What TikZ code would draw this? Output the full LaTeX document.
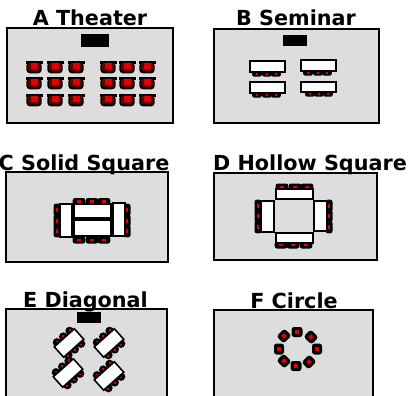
\documentclass[tikz,border=0pt]{standalone}
\usepackage{fontspec}
\setmainfont{DejaVu Sans}
\usepackage{xcolor}
\definecolor{roomgray}{RGB}{221,221,221}
\definecolor{seatred}{RGB}{225,0,0}
\definecolor{seatdark}{RGB}{90,0,0}
\tikzset{
  room/.style={draw=black,line width=1.15pt,fill=roomgray},
  screen/.style={fill=black},
  tablebox/.style={draw=black,line width=0.9pt,fill=white},
  roomtitle/.style={font=\fontsize{11.8}{14}\selectfont\bfseries,anchor=base,inner sep=0pt},
  chair/.pic={
    \fill[black] (-8.5,-6) rectangle (8.5,-3.5);
    \fill[black,rounded corners=2pt] (-7.7,-5) -- (7.7,-5) -- (7.7,6.3) -- (-7.7,6.3) -- cycle;
    \fill[seatdark,rounded corners=1pt] (-6,-4.5) -- (6,-4.5) -- (6,4.3) -- (-6,4.3) -- cycle;
    \fill[seatred] (-3.5,-4) rectangle (3.5,2);
  },
  seat/.pic={
    \fill[black,rounded corners=1.3pt] (-6.3,3.5) -- (-6.3,-3.5) -- (6.3,-3.5) -- (6.3,3.5) -- cycle;
    \fill[seatred] (-1.7,-1.2) rectangle (1.7,1);
  },
  blobseat/.pic={
    \fill[black] (0,0) circle (4.3);
    \fill[seatred] (-0.9,-1.6) rectangle (0.9,0);
  },
  roundseat/.pic={
    \fill[black,rounded corners=1.5pt] (-5.5,5) -- (-5.5,-5) -- (5.5,-5) -- (5.5,5) -- cycle;
    \fill[seatred] (-2,-2) rectangle (2,2);
  }
}
\begin{document}
\begin{tikzpicture}[x=0.02cm,y=-0.02cm]
\useasboundingbox (0,0) rectangle (411,395);
\clip (0,0) rectangle (411,395);

% Rooms
\foreach \xa/\ya/\xb/\yb in {7/28/173/123,214/29/379/123,6/172/168/262,214/173/377/260,6/309/167/410,214/310/373/410} {
  \draw[room] (\xa,\ya) rectangle (\xb,\yb);
}

% Screens
\foreach \xa/\ya/\xb/\yb in {81/34/109/47,283/35/307/46,77/312/101/323} {
  \fill[screen] (\xa,\ya) rectangle (\xb,\yb);
}

% A Theater
\foreach \px in {34,55,76,108,127,147} {
  \foreach \py in {67,83,100} {
    \pic at (\px,\py) {chair};
  }
}

% B Seminar
\foreach \px/\py in {257/74,267/74,276/74,308/73,318/73,327/73,257/95,267/95,276/95,310/94,319/94,328/94} {
  \pic[rotate=180,scale=0.78] at (\px,\py) {seat};
}
\foreach \xa/\ya/\xb/\yb in {250/61/285/72,301/60/336/71,250/82/285/93,301/82/336/92} {
  \draw[tablebox] (\xa,\ya) rectangle (\xb,\yb);
}

% C Solid Square
\foreach \px in {79,92,104} {
  \pic at (\px,201.5) {seat};
  \pic[rotate=180] at (\px,240) {seat};
}
\foreach \py in {210,221,231} {
  \pic[rotate=90] at (57,\py) {seat};
  \pic[rotate=-90] at (127,\py) {seat};
}
\foreach \xa/\ya/\xb/\yb in {60/204/72/237,74/204/111/218,74/220/111/236,113/203/125/236} {
  \draw[tablebox] (\xa,\ya) rectangle (\xb,\yb);
}

% D Hollow Square
\foreach \px in {282,295,307} {
  \pic at (\px,187) {seat};
}
\foreach \px in {281,293,306} {
  \pic[rotate=180] at (\px,245) {seat};
}
\foreach \py in {206,216,227} {
  \pic[rotate=90] at (258,\py) {seat};
  \pic[rotate=-90] at (329,\py) {seat};
}
\foreach \xa/\ya/\xb/\yb in {276/189/313/199,276/233/313/243,261/201/274/232,314/201/327/231} {
  \draw[tablebox] (\xa,\ya) rectangle (\xb,\yb);
}

% E Diagonal
\foreach \cx/\cy in {69/343,109/343,68/373,109/376} {
  \begin{scope}[shift={(\cx,\cy)},rotate=42]
    \foreach \k in {-8.5,0,8.5} {
      \pic at (\k,-8.5) {blobseat};
      \pic[rotate=180] at (\k,8.5) {blobseat};
    }
    \draw[tablebox] (-13.5,-7) rectangle (13.5,7);
  \end{scope}
}

% F Circle
\foreach \px/\py/\ang in {297/332/0,311/337/-45,317/349/-90,309/362/-135,296/366/180,284/361/135,279/349/90,284/336/45} {
  \pic[rotate=\ang] at (\px,\py) {roundseat};
}

% Titles
\node[roomtitle] (titleA) at (90,26) {A Theater};
\node[roomtitle] (titleB) at (296,26) {B Seminar};
\node[roomtitle] (titleC) at (84,170) {C Solid Square};
\node[roomtitle] (titleD) at (310,170) {D Hollow Square};
\node[roomtitle] (titleE) at (85.5,307) {E Diagonal};
\node[roomtitle] (titleF) at (294,308) {F Circle};
\end{tikzpicture}
\end{document}
